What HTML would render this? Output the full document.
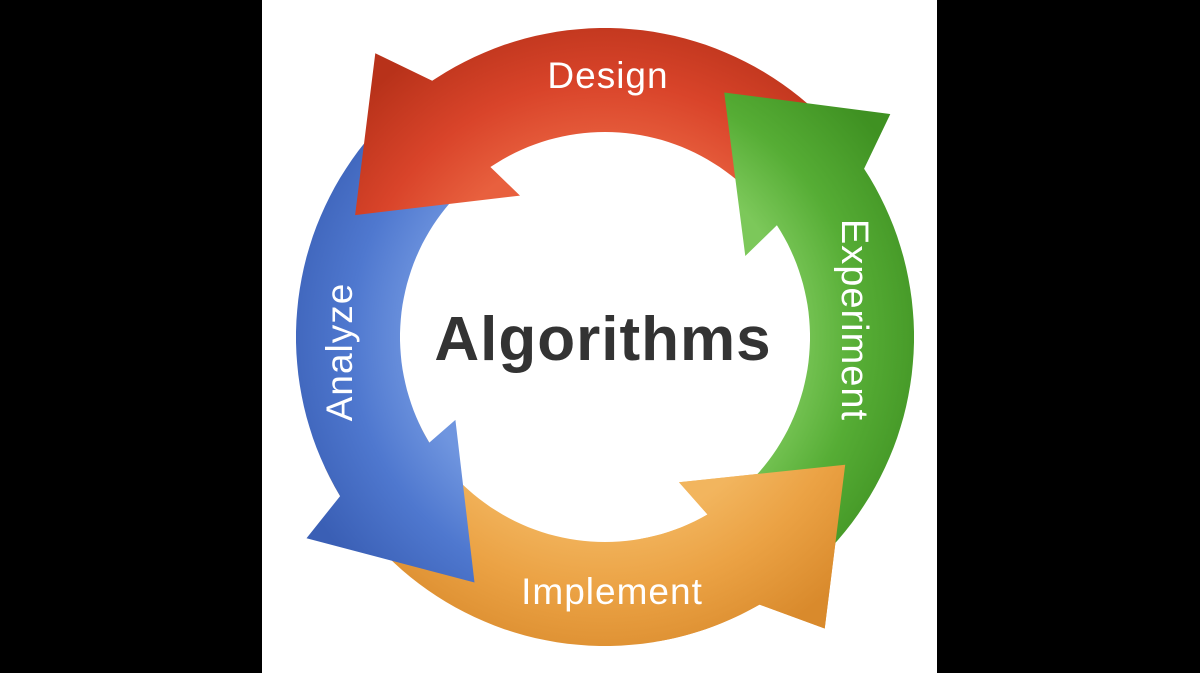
<!DOCTYPE html>
<html><head><meta charset="utf-8"><style>
html,body{margin:0;padding:0;background:#000;}
#w{position:relative;width:1200px;height:673px;background:#000;overflow:hidden;}
#p{position:absolute;left:262px;top:0;width:675px;height:673px;background:#fff;}
svg{position:absolute;left:0;top:0;}
</style></head><body><div id="w"><div id="p"></div>
<svg width="1200" height="673" viewBox="0 0 1200 673">
<defs>
<radialGradient id="gr" cx="605" cy="337" r="340" gradientUnits="userSpaceOnUse"><stop offset="0.55" stop-color="#e8603e"/><stop offset="0.75" stop-color="#d9442a"/><stop offset="1" stop-color="#b8321a"/></radialGradient>
<radialGradient id="gb" cx="605" cy="337" r="340" gradientUnits="userSpaceOnUse"><stop offset="0.55" stop-color="#6f95df"/><stop offset="0.75" stop-color="#4f78cf"/><stop offset="1" stop-color="#3a5fb5"/></radialGradient>
<radialGradient id="go" cx="605" cy="337" r="340" gradientUnits="userSpaceOnUse"><stop offset="0.55" stop-color="#f2b55e"/><stop offset="0.75" stop-color="#eba244"/><stop offset="1" stop-color="#d98a2c"/></radialGradient>
<radialGradient id="gg" cx="605" cy="337" r="340" gradientUnits="userSpaceOnUse"><stop offset="0.55" stop-color="#7cc85a"/><stop offset="0.75" stop-color="#56ad35"/><stop offset="1" stop-color="#3f9122"/></radialGradient>
</defs>
<path id="ao" fill="url(#go)"/>
<path id="ab" fill="url(#gb)"/>
<path id="ar" fill="url(#gr)"/>
<path id="ag" fill="url(#gg)"/>
<path id="ao2" fill="url(#go)"/>
<g font-family="Liberation Sans, sans-serif" fill="#fff" text-anchor="middle" font-size="37" letter-spacing="1">
<text x="608" y="88">Design</text>
<text x="612" y="604">Implement</text>
<text transform="translate(352,352) rotate(-90)">Analyze</text>
<text transform="translate(842,320) rotate(90)" font-size="38">Experiment</text>
</g>
<text x="603" y="360" font-family="Liberation Sans, sans-serif" font-size="62" font-weight="bold" fill="#333" text-anchor="middle" letter-spacing="1">Algorithms</text>
</svg></div>
<script>
var cx=605,cy=337,RO=309,RI=205;
function P(a,r){var t=a*Math.PI/180;return (cx+r*Math.cos(t)).toFixed(1)+","+(cy-r*Math.sin(t)).toFixed(1);}
function arrow(s,b,wi,wo,tip,tr){
 var d="M"+P(s,RO);
 for(var a=s;a<=b;a+=2)d+=" L"+P(a,RO);
 d+=" L"+P(b,RO)+" L"+P(wo[0],wo[1])+" L"+P(tip,tr)+" L"+P(wi[0],wi[1])+" L"+P(b,RI);
 for(var a=b;a>=s;a-=2)d+=" L"+P(a,RI);
 d+=" L"+P(s,RI)+"Z";return d;}
document.getElementById("ar").setAttribute("d",arrow(45,124,[121,165],[129,365],154,278));
document.getElementById("ab").setAttribute("d",arrow(135,211,[209,171],[214,360],242,278));
document.getElementById("ao").setAttribute("d",arrow(205,300,[297,163],[307,365],332,272));
document.getElementById("ao2").setAttribute("d",arrow(280,300,[297,163],[307,365],332,272));
document.getElementById("ag").setAttribute("d",arrow(-45,33,[30,162],[38,362],64,272));
</script>
</body></html>
